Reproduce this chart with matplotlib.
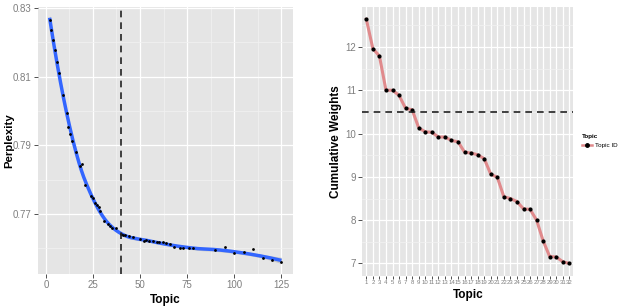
import numpy as np
import matplotlib
matplotlib.use("Agg")
import matplotlib.pyplot as plt
from matplotlib.lines import Line2D

plt.rcParams['font.family'] = ['Liberation Sans', 'DejaVu Sans']

# ---------------- data ----------------
perp_topics = [2, 3, 4, 5, 6, 7, 9, 11, 12, 13, 14, 16, 18, 19, 21, 24, 25, 26, 27, 28,
               29, 31, 33, 34, 35, 37, 40, 41, 42, 44, 46, 50, 52, 53, 55, 57, 59, 60,
               62, 64, 66, 68, 71, 73, 76, 78, 90, 95, 100, 105, 110, 115, 120, 125]
perp_values = [0.8265, 0.8236, 0.8207, 0.8178, 0.8144, 0.8112, 0.8047, 0.7993, 0.7954,
               0.7933, 0.7913, 0.7881, 0.7839, 0.7845, 0.7784, 0.7753, 0.7746, 0.7732,
               0.7727, 0.7720, 0.7708, 0.7679, 0.7672, 0.7664, 0.7658, 0.7658, 0.7642,
               0.7640, 0.7639, 0.7637, 0.7634, 0.7627, 0.7621, 0.7623, 0.7622, 0.7620,
               0.7618, 0.7618, 0.7618, 0.7616, 0.7611, 0.7603, 0.7602, 0.7601, 0.7601,
               0.7601, 0.7595, 0.7603, 0.7587, 0.7589, 0.7598, 0.7572, 0.7567, 0.7561]
perp_vline = 40
perp_yticks = [0.77, 0.79, 0.81, 0.83]
perp_xticks = [0, 25, 50, 75, 100, 125]

cw_topics = list(range(1, 33))
cw_values = [12.64, 11.96, 11.79, 11.00, 11.00, 10.88, 10.58, 10.55, 10.13, 10.04,
             10.03, 9.92, 9.92, 9.84, 9.81, 9.57, 9.55, 9.51, 9.42, 9.06, 8.99, 8.54,
             8.50, 8.43, 8.26, 8.25, 8.00, 7.52, 7.16, 7.15, 7.04, 7.00]
cw_hline = 10.5
cw_yticks = [7, 8, 9, 10, 11, 12]

# ---------------- loess smoother ----------------
def loess(x, y, xs, span=0.3, degree=2):
    x = np.asarray(x, float); y = np.asarray(y, float)
    n = len(x)
    k = int(np.ceil(span * n))
    def weights_row(x0):
        d = np.abs(x - x0)
        h = np.sort(d)[k - 1] * max(1.0, span)
        w = np.clip(1 - (d / h) ** 3, 0, None) ** 3
        X = np.vander(x - x0, degree + 1, increasing=True)
        W = np.diag(w)
        A = X.T @ W @ X
        l = np.linalg.solve(A, X.T @ W)[0]
        return l
    L_obs = np.array([weights_row(x0) for x0 in x])
    resid = y - L_obs @ y
    dof = n - np.trace(L_obs)
    sigma2 = np.sum(resid ** 2) / dof
    L = np.array([weights_row(x0) for x0 in xs])
    fit = L @ y
    se = np.sqrt(sigma2 * np.sum(L ** 2, axis=1))
    return fit, se

xs = np.linspace(min(perp_topics), max(perp_topics), 300)
fit, se = loess(perp_topics, perp_values, xs, span=0.5)

# ---------------- figure ----------------
W, H = 628, 306
fig = plt.figure(figsize=(W / 100, H / 100), dpi=100)

def px_axes(l, t, r, b):
    return fig.add_axes([l / W, 1 - b / H, (r - l) / W, (b - t) / H])

PANEL = '#E5E5E5'
MINOR = '#F2F2F2'
TICKC = '#7F7F7F'

def style(ax):
    ax.set_facecolor(PANEL)
    for s in ax.spines.values():
        s.set_visible(False)
    ax.tick_params(which='major', length=3, width=0.6, color='#333333',
                   labelcolor=TICKC, labelsize=7, pad=1.5)
    ax.tick_params(which='minor', length=0)
    ax.grid(which='major', color='white', lw=0.9)
    ax.grid(which='minor', color=MINOR, lw=0.5)
    ax.set_axisbelow(True)

# ---- left panel ----
ax1 = px_axes(38, 7, 293, 274)
style(ax1)
ax1.set_xlim(-4.15, 131.15)
ax1.set_ylim(0.7525, 0.8303)
ax1.set_xticks(perp_xticks)
ax1.set_xticks([12.5, 37.5, 62.5, 87.5, 112.5], minor=True)
ax1.set_yticks(perp_yticks)
ax1.set_yticks([0.76, 0.78, 0.80, 0.82], minor=True)
ax1.set_yticklabels([f"{v:.2f}" for v in perp_yticks])
ax1.fill_between(xs, fit - 2 * se, fit + 2 * se, color='#999999', alpha=0.4, lw=0)
ax1.plot(xs, fit, color='#3366FF', lw=2.5, solid_capstyle='butt', zorder=3)
ax1.scatter(perp_topics, perp_values, s=4, color='black', zorder=4, lw=0)
ax1.axvline(perp_vline, color='#222222', lw=1.2, ls=(0, (4, 3)), zorder=5)
ax1.set_xlabel('Topic', fontsize=8.5, fontweight='bold', labelpad=3)
ax1.set_ylabel('Perplexity', fontsize=8.2, fontweight='bold', va='center')
ax1.yaxis.set_label_coords((9 - 38) / 255, 0.5)

# ---- right panel ----
ax2 = px_axes(362.4, 7, 573.3, 275.7)
style(ax2)
ax2.set_xlim(0.4, 32.6)
ax2.set_ylim(6.718, 12.922)
ax2.set_xticks(cw_topics)
ax2.set_xticklabels([str(t) for t in cw_topics], fontsize=4.3)
ax2.set_yticks(cw_yticks)
ax2.set_yticks([7.5, 8.5, 9.5, 10.5, 11.5, 12.5], minor=True)
ax2.tick_params(axis='x', length=2, pad=1)
ax2.plot(cw_topics, cw_values, color='#E08A8C', lw=2.2, zorder=3)
ax2.scatter(cw_topics, cw_values, s=9, color='black', zorder=4, lw=0)
ax2.axhline(cw_hline, color='#222222', lw=1.2, ls=(0, (4, 3)), zorder=5)
ax2.set_xlabel('Topic', fontsize=8.5, fontweight='bold', labelpad=3)
ax2.set_ylabel('Cumulative Weights', fontsize=8.5, fontweight='bold', va='center')
ax2.yaxis.set_label_coords((336 - 362.4) / 210.9, 0.5)

handle = Line2D([], [], color='#E08A8C', lw=1.8, marker='o', markersize=2.5,
                markerfacecolor='black', markeredgecolor='black')
leg = fig.legend([handle], ['Topic ID'], title='Topic', loc='upper left',
                 bbox_to_anchor=(578 / W, 1 - 130 / H), frameon=False,
                 fontsize=4.5, title_fontsize=4.5, handlelength=1.6,
                 handletextpad=0.4, borderpad=0.2, alignment='left')
leg.get_title().set_fontweight('bold')

fig.savefig('out.png', dpi=100)
